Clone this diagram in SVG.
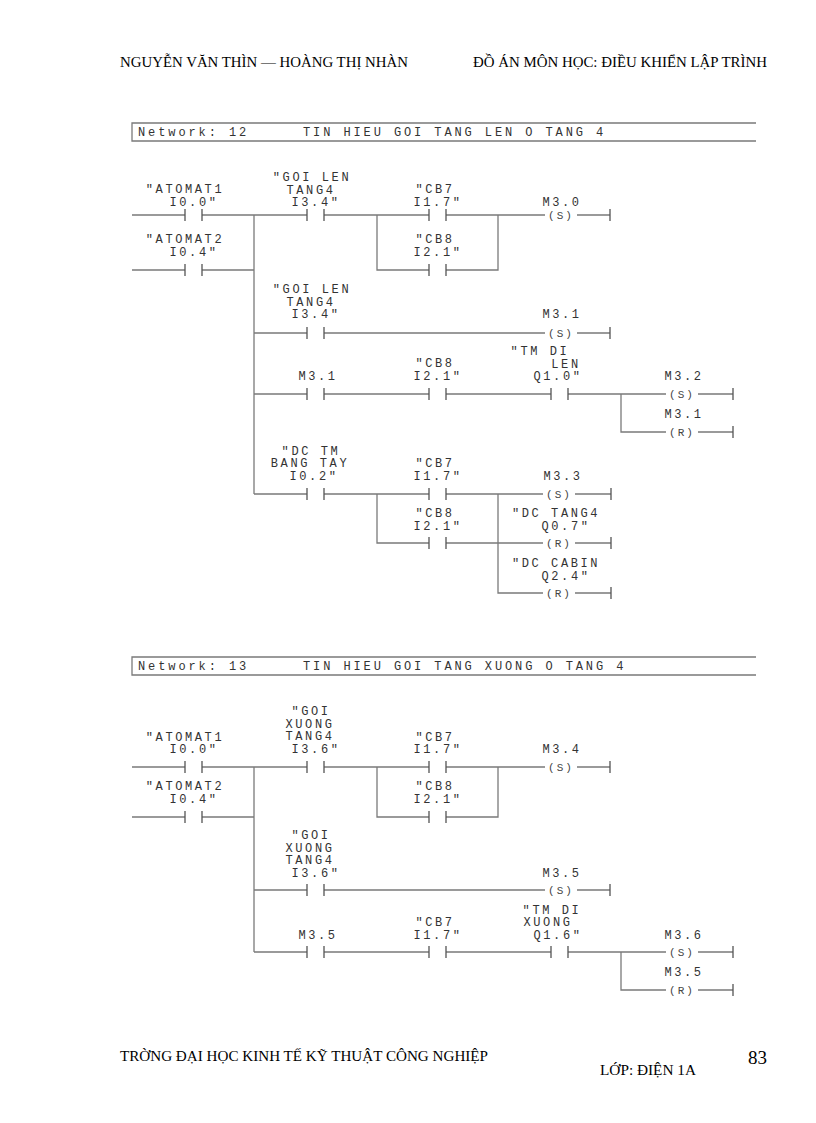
<svg xmlns="http://www.w3.org/2000/svg" width="816" height="1123" viewBox="0 0 816 1123">
<style>
.w{fill:none;stroke:#7a7a7a;stroke-width:1.3}
.b{stroke:#555;stroke-width:1.3}
.t{font-family:"Liberation Mono",monospace;font-size:12px;fill:#333;letter-spacing:2.6px;text-anchor:middle}
.c{font-family:"Liberation Mono",monospace;font-size:11px;fill:#444;letter-spacing:2px;text-anchor:middle}
.h{font-family:"Liberation Mono",monospace;font-size:12px;fill:#333;letter-spacing:2.9px}
.p{font-family:"Liberation Serif",serif;font-size:14px;fill:#000}
</style>
<rect width="816" height="1123" fill="#fff"/>
<g id="page">
<text class="p" x="120" y="67" textLength="288" lengthAdjust="spacingAndGlyphs">NGUYỄN VĂN THÌN — HOÀNG THỊ NHÀN</text>
<text class="p" x="473" y="67" textLength="294" lengthAdjust="spacingAndGlyphs">ĐỒ ÁN MÔN HỌC: ĐIỀU KHIỂN LẬP TRÌNH</text>
<text class="p" x="120" y="1061" textLength="368" lengthAdjust="spacingAndGlyphs">TRỜNG   ĐẠI HỌC KINH TẾ KỸ THUẬT CÔNG NGHIỆP</text>
<text class="p" x="600" y="1075" textLength="96" lengthAdjust="spacingAndGlyphs">LỚP: ĐIỆN 1A</text>
<text class="p" x="748" y="1064" style="font-size:19px">83</text>
</g>
<g id="n12-header">
<path class="w" d="M756 123H132V141H756"/>
<text class="h" x="138" y="136">Network: 12</text>
<text class="h" x="303" y="136">TIN HIEU GOI TANG LEN O TANG 4</text>
</g>
<g id="n13-header">
<path class="w" d="M756 657H132V675H756"/>
<text class="h" x="138" y="670">Network: 13</text>
<text class="h" x="303" y="670">TIN HIEU GOI TANG XUONG O TANG 4</text>
</g>
<g id="connectors">
<path class="w" d="M132 215H185M202 215H307M324 215H429M446 215H545M577 215H610M132 270H185M202 270H254M254 215V494M377 215V270H429M446 270H498V215M254 333H307M324 333H545M577 333H610M254 394H307M324 394H429M446 394H551M568 394H666M698 394H733M621 394V432H666M698 432H733M254 494H307M324 494H429M446 494H543M575 494H611M377 494V543H429M446 543H543M575 543H611M498 494V593H543M575 593H611"/>
<path class="w" d="M132 767H185M202 767H307M324 767H429M446 767H545M577 767H610M132 817H185M202 817H254M254 767V952M377 767V817H429M446 817H498V767M254 890H307M324 890H545M577 890H610M254 952H307M324 952H429M446 952H551M568 952H666M698 952H733M621 952V990H666M698 990H733"/>
</g>
<g id="bars" class="b">
<path d="M185 209V221M202 209V221M307 209V221M324 209V221M429 209V221M446 209V221M610 209V221M185 264V276M202 264V276M429 264V276M446 264V276M307 327V339M324 327V339M610 327V339M307 388V400M324 388V400M429 388V400M446 388V400M551 388V400M568 388V400M733 388V400M733 426V438M307 488V500M324 488V500M429 488V500M446 488V500M611 488V500M429 537V549M446 537V549M611 537V549M611 587V599"/>
<path d="M185 761V773M202 761V773M307 761V773M324 761V773M429 761V773M446 761V773M610 761V773M185 811V823M202 811V823M429 811V823M446 811V823M307 884V896M324 884V896M610 884V896M307 946V958M324 946V958M429 946V958M446 946V958M551 946V958M568 946V958M733 946V958M733 984V996"/>
</g>
<g id="coils">
<text class="c" x="561" y="219">(S)</text><text class="c" x="561" y="337">(S)</text><text class="c" x="682" y="398">(S)</text><text class="c" x="682" y="436">(R)</text>
<text class="c" x="559" y="498">(S)</text><text class="c" x="559" y="547">(R)</text><text class="c" x="559" y="597">(R)</text>
<text class="c" x="561" y="771">(S)</text><text class="c" x="561" y="894">(S)</text><text class="c" x="682" y="956">(S)</text><text class="c" x="682" y="994">(R)</text>
</g>
<g id="n12-nodes" transform="translate(0,-3)">
<g id="c-atomat1"><text class="t" x="185" y="196">"ATOMAT1</text><text class="t" x="194" y="209">I0.0"</text></g>
<g id="c-atomat2"><text class="t" x="185" y="246">"ATOMAT2</text><text class="t" x="194" y="259">I0.4"</text></g>
<g id="c-goilen1"><text class="t" x="312" y="184">"GOI LEN</text><text class="t" x="311" y="197">TANG4</text><text class="t" x="316" y="209">I3.4"</text></g>
<g id="c-cb7a"><text class="t" x="435" y="196">"CB7</text><text class="t" x="438" y="209">I1.7"</text></g>
<g id="c-cb8a"><text class="t" x="435" y="246">"CB8</text><text class="t" x="438" y="259">I2.1"</text></g>
<g id="q-m30"><text class="t" x="562" y="209">M3.0</text></g>
<g id="c-goilen2"><text class="t" x="312" y="296">"GOI LEN</text><text class="t" x="311" y="309">TANG4</text><text class="t" x="316" y="321">I3.4"</text></g>
<g id="q-m31s"><text class="t" x="562" y="321">M3.1</text></g>
<g id="c-m31"><text class="t" x="318" y="383">M3.1</text></g>
<g id="c-cb8b"><text class="t" x="435" y="370">"CB8</text><text class="t" x="438" y="383">I2.1"</text></g>
<g id="c-tmdilen"><text class="t" x="540" y="358">"TM DI</text><text class="t" x="566" y="371">LEN</text><text class="t" x="558" y="383">Q1.0"</text></g>
<g id="q-m32"><text class="t" x="684" y="383">M3.2</text></g>
<g id="q-m31r"><text class="t" x="684" y="421">M3.1</text></g>
<g id="c-dctm"><text class="t" x="311" y="458">"DC TM</text><text class="t" x="310" y="470">BANG TAY</text><text class="t" x="314" y="483">I0.2"</text></g>
<g id="c-cb7b"><text class="t" x="435" y="470">"CB7</text><text class="t" x="438" y="483">I1.7"</text></g>
<g id="c-cb8c"><text class="t" x="435" y="520">"CB8</text><text class="t" x="438" y="533">I2.1"</text></g>
<g id="q-m33"><text class="t" x="563" y="483">M3.3</text></g>
<g id="q-q07"><text class="t" x="556" y="520">"DC TANG4</text><text class="t" x="566" y="533">Q0.7"</text></g>
<g id="q-q24"><text class="t" x="556" y="570">"DC CABIN</text><text class="t" x="566" y="583">Q2.4"</text></g>
</g>
<g id="n13-nodes" transform="translate(0,-3)">
<g id="d-atomat1"><text class="t" x="185" y="744">"ATOMAT1</text><text class="t" x="194" y="756">I0.0"</text></g>
<g id="d-atomat2"><text class="t" x="185" y="793">"ATOMAT2</text><text class="t" x="194" y="806">I0.4"</text></g>
<g id="d-goixuong1"><text class="t" x="311" y="718">"GOI</text><text class="t" x="310" y="731">XUONG</text><text class="t" x="310" y="743">TANG4</text><text class="t" x="316" y="756">I3.6"</text></g>
<g id="d-cb7a"><text class="t" x="435" y="744">"CB7</text><text class="t" x="438" y="756">I1.7"</text></g>
<g id="d-cb8a"><text class="t" x="435" y="793">"CB8</text><text class="t" x="438" y="806">I2.1"</text></g>
<g id="q-m34"><text class="t" x="562" y="756">M3.4</text></g>
<g id="d-goixuong2"><text class="t" x="311" y="842">"GOI</text><text class="t" x="310" y="855">XUONG</text><text class="t" x="310" y="867">TANG4</text><text class="t" x="316" y="880">I3.6"</text></g>
<g id="q-m35s"><text class="t" x="562" y="880">M3.5</text></g>
<g id="d-m35"><text class="t" x="318" y="942">M3.5</text></g>
<g id="d-cb7b"><text class="t" x="435" y="929">"CB7</text><text class="t" x="438" y="942">I1.7"</text></g>
<g id="d-tmdixuong"><text class="t" x="552" y="917">"TM DI</text><text class="t" x="548" y="929">XUONG</text><text class="t" x="558" y="942">Q1.6"</text></g>
<g id="q-m36"><text class="t" x="684" y="942">M3.6</text></g>
<g id="q-m35r"><text class="t" x="684" y="979">M3.5</text></g>
</g>
</svg>
